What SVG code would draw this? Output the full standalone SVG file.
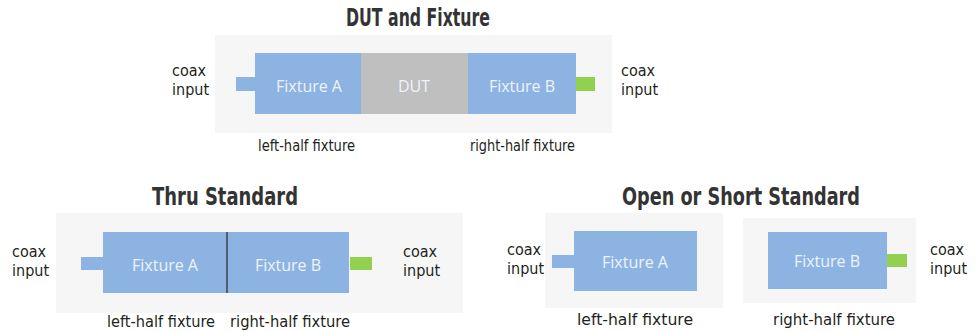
<svg xmlns="http://www.w3.org/2000/svg" width="979" height="332" viewBox="0 0 979 332">
<style>
.panel{fill:#f6f6f6}
.fix{fill:#8db3e2}
.dut{fill:#bfbfbf}
.green{fill:#92d050}
.title{font-family:"Liberation Sans Narrow","DejaVu Sans Condensed",sans-serif;font-weight:bold;font-size:24px;fill:#333333;text-anchor:middle}
.lbl{font-family:"Liberation Sans Narrow","DejaVu Sans Condensed",sans-serif;font-size:16px;fill:#231f20}
.in{font-family:"Open Sans","Noto Sans",sans-serif;font-size:16px;fill:#eef3fa;text-anchor:middle}
</style>
<rect width="979" height="332" fill="#ffffff"/>

<g id="dut-and-fixture">
  <text class="title" x="418" y="26" textLength="144" lengthAdjust="spacingAndGlyphs">DUT and Fixture</text>
  <rect class="panel" x="215" y="35" width="397" height="98"/>
  <g id="top-coax-left"><rect class="fix" x="236" y="77" width="20" height="14"/></g>
  <g id="top-fixture-a"><rect class="fix" x="255" y="53" width="106" height="61"/><text class="in" x="309" y="92">Fixture A</text></g>
  <g id="top-dut"><rect class="dut" x="361" y="53" width="107" height="61"/><text class="in" x="414" y="92">DUT</text></g>
  <g id="top-fixture-b"><rect class="fix" x="468" y="53" width="108" height="61"/><text class="in" x="522" y="92">Fixture B</text></g>
  <g id="top-coax-right"><rect class="green" x="576" y="77" width="19" height="14"/></g>
  <text class="lbl" x="172" y="76">coax</text><text class="lbl" x="172" y="95">input</text>
  <text class="lbl" x="621" y="76">coax</text><text class="lbl" x="621" y="95">input</text>
  <text class="lbl" x="258" y="151" textLength="97" lengthAdjust="spacingAndGlyphs">left-half fixture</text>
  <text class="lbl" x="470" y="151" textLength="105" lengthAdjust="spacingAndGlyphs">right-half fixture</text>
</g>

<g id="thru-standard">
  <text class="title" x="225" y="205" textLength="146" lengthAdjust="spacingAndGlyphs">Thru Standard</text>
  <rect class="panel" x="56" y="213" width="407" height="100"/>
  <g id="thru-coax-left"><rect class="fix" x="81" y="257" width="23" height="13"/></g>
  <g id="thru-fixture-a"><rect class="fix" x="103" y="232" width="124" height="61"/><text class="in" x="165" y="271">Fixture A</text></g>
  <g id="thru-fixture-b"><rect class="fix" x="227" y="232" width="122" height="61"/><text class="in" x="288" y="271">Fixture B</text></g>
  <line x1="227" y1="232" x2="227" y2="293" stroke="#3a4350" stroke-width="1.5"/>
  <g id="thru-coax-right"><rect class="green" x="350" y="257" width="22" height="13"/></g>
  <text class="lbl" x="12" y="257">coax</text><text class="lbl" x="12" y="276">input</text>
  <text class="lbl" x="403" y="257">coax</text><text class="lbl" x="403" y="276">input</text>
  <text class="lbl" x="107" y="327" textLength="108" lengthAdjust="spacingAndGlyphs">left-half fixture</text>
  <text class="lbl" x="230" y="327" textLength="120" lengthAdjust="spacingAndGlyphs">right-half fixture</text>
</g>

<g id="open-short-standard">
  <text class="title" x="741" y="205" textLength="238" lengthAdjust="spacingAndGlyphs">Open or Short Standard</text>
  <rect class="panel" x="545" y="213" width="178" height="95"/>
  <g id="os-coax-left"><rect class="fix" x="552" y="255" width="23" height="13"/></g>
  <g id="os-fixture-a"><rect class="fix" x="574" y="231" width="123" height="60"/><text class="in" x="635" y="268">Fixture A</text></g>
  <rect class="panel" x="743" y="218" width="173" height="85"/>
  <g id="os-fixture-b"><rect class="fix" x="768" y="232" width="119" height="57"/><text class="in" x="827" y="267">Fixture B</text></g>
  <g id="os-coax-right"><rect class="green" x="887" y="254" width="20" height="13"/></g>
  <text class="lbl" x="507" y="255">coax</text><text class="lbl" x="507" y="274">input</text>
  <text class="lbl" x="930" y="255">coax</text><text class="lbl" x="930" y="274">input</text>
  <text class="lbl" x="577" y="325" textLength="116" lengthAdjust="spacingAndGlyphs">left-half fixture</text>
  <text class="lbl" x="773" y="325" textLength="122" lengthAdjust="spacingAndGlyphs">right-half fixture</text>
</g>
</svg>
